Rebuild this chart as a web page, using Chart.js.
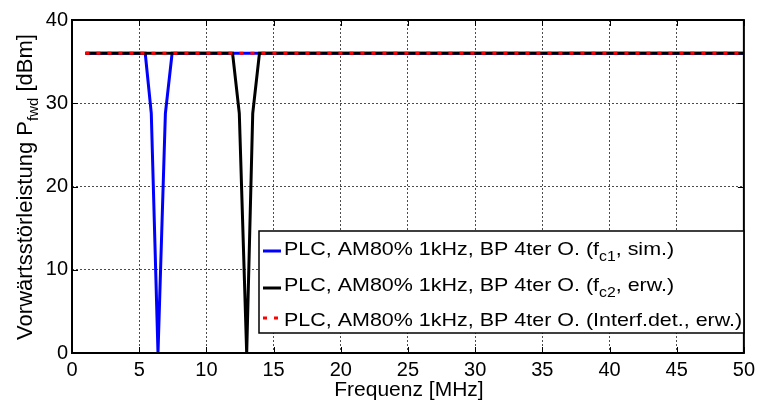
<!DOCTYPE html>
<html>
<head>
<meta charset="utf-8">
<script src="https://cdn.jsdelivr.net/npm/chart.js@4"></script>
<style>
  body { margin: 0; background: #fff; }
  #wrap { width: 760px; height: 401px; }
</style>
</head>
<body>
<div id="wrap"><canvas id="chart" width="760" height="401"></canvas></div>
<script>
// Daten
const xTicks = [0, 5, 10, 15, 20, 25, 30, 35, 40, 45, 50];
const yTicks = [0, 10, 20, 30, 40];

const freqC1 = [1, 5.45, 5.9, 6.4, 6.95, 7.45, 50];
const pwrC1 = [36, 36, 28.8, 0, 28.8, 36, 36];

const freqC2 = [1, 11.95, 12.45, 13.0, 13.45, 13.95, 50];
const pwrC2 = [36, 36, 28.8, 0, 28.8, 36, 36];

const freqDet = [1, 50];
const pwrDet = [36, 36];

const legendLabels = [
  [{ t: 'PLC, AM80% 1kHz, BP 4ter O. (f' }, { t: 'c1', sub: true }, { t: ', sim.)' }],
  [{ t: 'PLC, AM80% 1kHz, BP 4ter O. (f' }, { t: 'c2', sub: true }, { t: ', erw.)' }],
  [{ t: 'PLC, AM80% 1kHz, BP 4ter O. (Interf.det., erw.)' }]
];

const FONT = '"Liberation Sans", Arial, sans-serif';

function toPoints(xs, ys) {
  return xs.map((x, i) => ({ x: x, y: ys[i] }));
}

// Text mit Tiefstellung zeichnen
function richWidth(ctx, parts, size, subSize) {
  let w = 0;
  parts.forEach(p => {
    ctx.font = (p.sub ? subSize : size) + 'px ' + FONT;
    w += ctx.measureText(p.t).width;
  });
  return w;
}

function drawRich(ctx, parts, x, y, size, subSize, subShift) {
  parts.forEach(p => {
    ctx.font = (p.sub ? subSize : size) + 'px ' + FONT;
    ctx.fillText(p.t, x, p.sub ? y + subShift : y);
    x += ctx.measureText(p.t).width;
  });
}

const decoPlugin = {
  id: 'deco',
  afterDatasetsDraw(chart) {
    const ctx = chart.ctx;
    const a = chart.chartArea;
    const xs = chart.scales.x;
    const ys = chart.scales.y;
    ctx.save();

    // kleine Ticks nach innen
    ctx.strokeStyle = '#000';
    ctx.lineWidth = 1;
    ctx.beginPath();
    xTicks.forEach(v => {
      const px = Math.round(xs.getPixelForValue(v)) + 0.5;
      ctx.moveTo(px, a.bottom); ctx.lineTo(px, a.bottom - 6);
      ctx.moveTo(px, a.top); ctx.lineTo(px, a.top + 6);
    });
    yTicks.forEach(v => {
      const py = Math.round(ys.getPixelForValue(v)) + 0.5;
      ctx.moveTo(a.left, py); ctx.lineTo(a.left + 6, py);
      ctx.moveTo(a.right, py); ctx.lineTo(a.right - 6, py);
    });
    ctx.stroke();

    // Rahmen
    ctx.lineWidth = 2;
    ctx.strokeRect(a.left, a.top, a.right - a.left, a.bottom - a.top);

    // Legende
    const lx = 259, ly = 231, lw = a.right - 259, lh = 102;
    ctx.fillStyle = '#fff';
    ctx.fillRect(lx, ly, lw, lh);
    ctx.lineWidth = 1.5;
    ctx.strokeStyle = '#000';
    ctx.strokeRect(lx, ly, lw, lh);

    const lineY = [251, 288, 318];
    const baseY = [255, 291, 326];
    const colors = ['#0000ff', '#000000', '#ff0000'];
    lineY.forEach((ry, i) => {
      ctx.beginPath();
      ctx.lineWidth = 3;
      ctx.strokeStyle = colors[i];
      ctx.setLineDash(i === 2 ? [4, 7] : []);
      ctx.moveTo(263, ry);
      ctx.lineTo(281, ry);
      ctx.stroke();
      ctx.setLineDash([]);
      ctx.fillStyle = '#000';
      ctx.textBaseline = 'alphabetic';
      ctx.textAlign = 'left';
      // Text leicht breiter gezogen wie im Original
      ctx.save();
      ctx.translate(284, baseY[i]);
      ctx.scale(1.13, 1);
      drawRich(ctx, legendLabels[i], 0, 0, 19, 14, 6);
      ctx.restore();
    });

    // Achsentitel
    ctx.fillStyle = '#000';
    ctx.textBaseline = 'middle';
    ctx.textAlign = 'center';
    ctx.font = '21px ' + FONT;
    ctx.fillText('Frequenz [MHz]', (a.left + a.right) / 2 + 1, 390);

    const yTitle = [{ t: 'Vorwärtsstörleistung P' }, { t: 'fwd', sub: true }, { t: ' [dBm]' }];
    ctx.textBaseline = 'alphabetic';
    ctx.textAlign = 'left';
    ctx.translate(32, 187);
    ctx.rotate(-Math.PI / 2);
    const w = richWidth(ctx, yTitle, 22, 15);
    drawRich(ctx, yTitle, -w / 2, 0, 22, 15, 6);
    ctx.restore();
  }
};

const ctx = document.getElementById('chart').getContext('2d');
new Chart(ctx, {
  type: 'line',
  data: {
    datasets: [
      {
        data: toPoints(freqC1, pwrC1),
        borderColor: '#0000ff',
        borderWidth: 3,
        pointRadius: 0,
        tension: 0,
        order: 3
      },
      {
        data: toPoints(freqC2, pwrC2),
        borderColor: '#000000',
        borderWidth: 3,
        pointRadius: 0,
        tension: 0,
        order: 2
      },
      {
        data: toPoints(freqDet, pwrDet),
        borderColor: '#ff0000',
        borderWidth: 3,
        borderDash: [4, 7],
        pointRadius: 0,
        tension: 0,
        order: 1
      }
    ]
  },
  options: {
    responsive: false,
    animation: false,
    layout: { padding: { top: 20, right: 14, left: 0, bottom: 0 } },
    plugins: { legend: { display: false }, tooltip: { enabled: false } },
    scales: {
      x: {
        type: 'linear',
        min: 0,
        max: 50,
        afterBuildTicks: s => { s.ticks = xTicks.map(v => ({ value: v })); },
        afterFit: s => { s.height = 48; },
        ticks: {
          color: '#000',
          font: { family: FONT, size: 20 },
          padding: 5,
          maxRotation: 0
        },
        grid: { color: 'rgba(0,0,0,0.7)', lineWidth: 1, drawTicks: false },
        border: { display: false, dash: [2, 2] }
      },
      y: {
        min: 0,
        max: 40,
        afterBuildTicks: s => { s.ticks = yTicks.map(v => ({ value: v })); },
        afterFit: s => { s.width = 72; },
        ticks: {
          color: '#000',
          font: { family: FONT, size: 20 },
          padding: 4
        },
        grid: { color: 'rgba(0,0,0,0.7)', lineWidth: 1, drawTicks: false },
        border: { display: false, dash: [2, 2] }
      }
    }
  },
  plugins: [decoPlugin]
});
</script>
</body>
</html>
